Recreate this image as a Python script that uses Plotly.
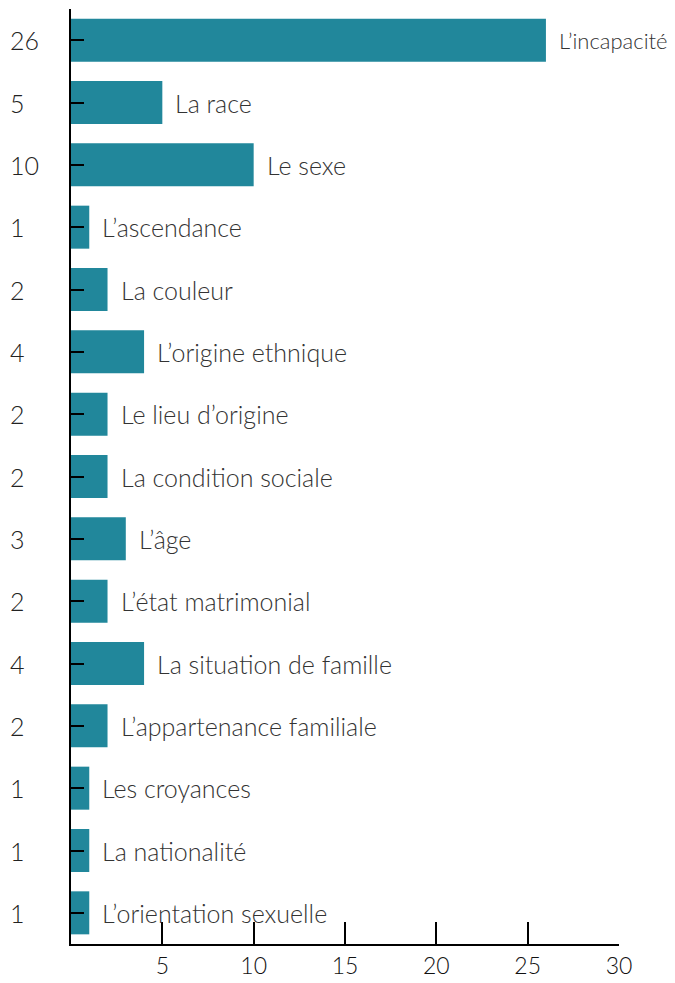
import plotly.graph_objects as go

categories = [
    "L’incapacité", "La race", "Le sexe", "L’ascendance", "La couleur",
    "L’origine ethnique", "Le lieu d’origine", "La condition sociale", "L’âge",
    "L’état matrimonial", "La situation de famille", "L’appartenance familiale",
    "Les croyances", "La nationalité", "L’orientation sexuelle",
]
values = [26, 5, 10, 1, 2, 4, 2, 2, 3, 2, 4, 2, 1, 1, 1]
x_ticks = [5, 10, 15, 20, 25, 30]

BAR = "#21879b"
FONT = "Lato Light, Lato"

fig = go.Figure(go.Bar(
    x=values, y=categories, orientation="h",
    marker=dict(color=BAR, line=dict(width=0)),
    hoverinfo="x+y",
))

# category name to the right of each bar
for cat, v in zip(categories, values):
    # the longest bar's label sits near the window edge, so a touch smaller
    size = 22 if v == max(values) else 25
    fig.add_annotation(x=v, y=cat, text=cat, showarrow=False, xanchor="left",
                       xshift=11, font=dict(family=FONT, size=size, color="#333333", weight=300))
    # value shown at the left, left-aligned
    fig.add_annotation(x=0, xref="paper", y=cat, text=str(v), showarrow=False,
                       xanchor="left", xshift=-63,
                       font=dict(family=FONT, size=25, color="#222222", weight=300))

# page body has an 8px margin, so the figure is a bit smaller than the window
fig.update_layout(
    width=667, height=975,
    margin=dict(l=63, r=56, t=1, b=39),
    plot_bgcolor="white", paper_bgcolor="white",
    showlegend=False, bargap=0.31,
    font=dict(family=FONT),
    xaxis=dict(range=[0, 30], tickvals=x_ticks, ticks="inside", ticklen=22, tickwidth=2,
               tickcolor="black", showline=True, linecolor="black", linewidth=2,
               showgrid=False, zeroline=False,
               tickfont=dict(family=FONT, size=23, color="#111111", weight=300)),
    yaxis=dict(autorange="reversed", showticklabels=False, ticks="inside", ticklen=13,
               tickwidth=2, tickcolor="black", showline=True, linecolor="black",
               linewidth=2, showgrid=False, zeroline=False),
)

fig.write_html("out.html")
